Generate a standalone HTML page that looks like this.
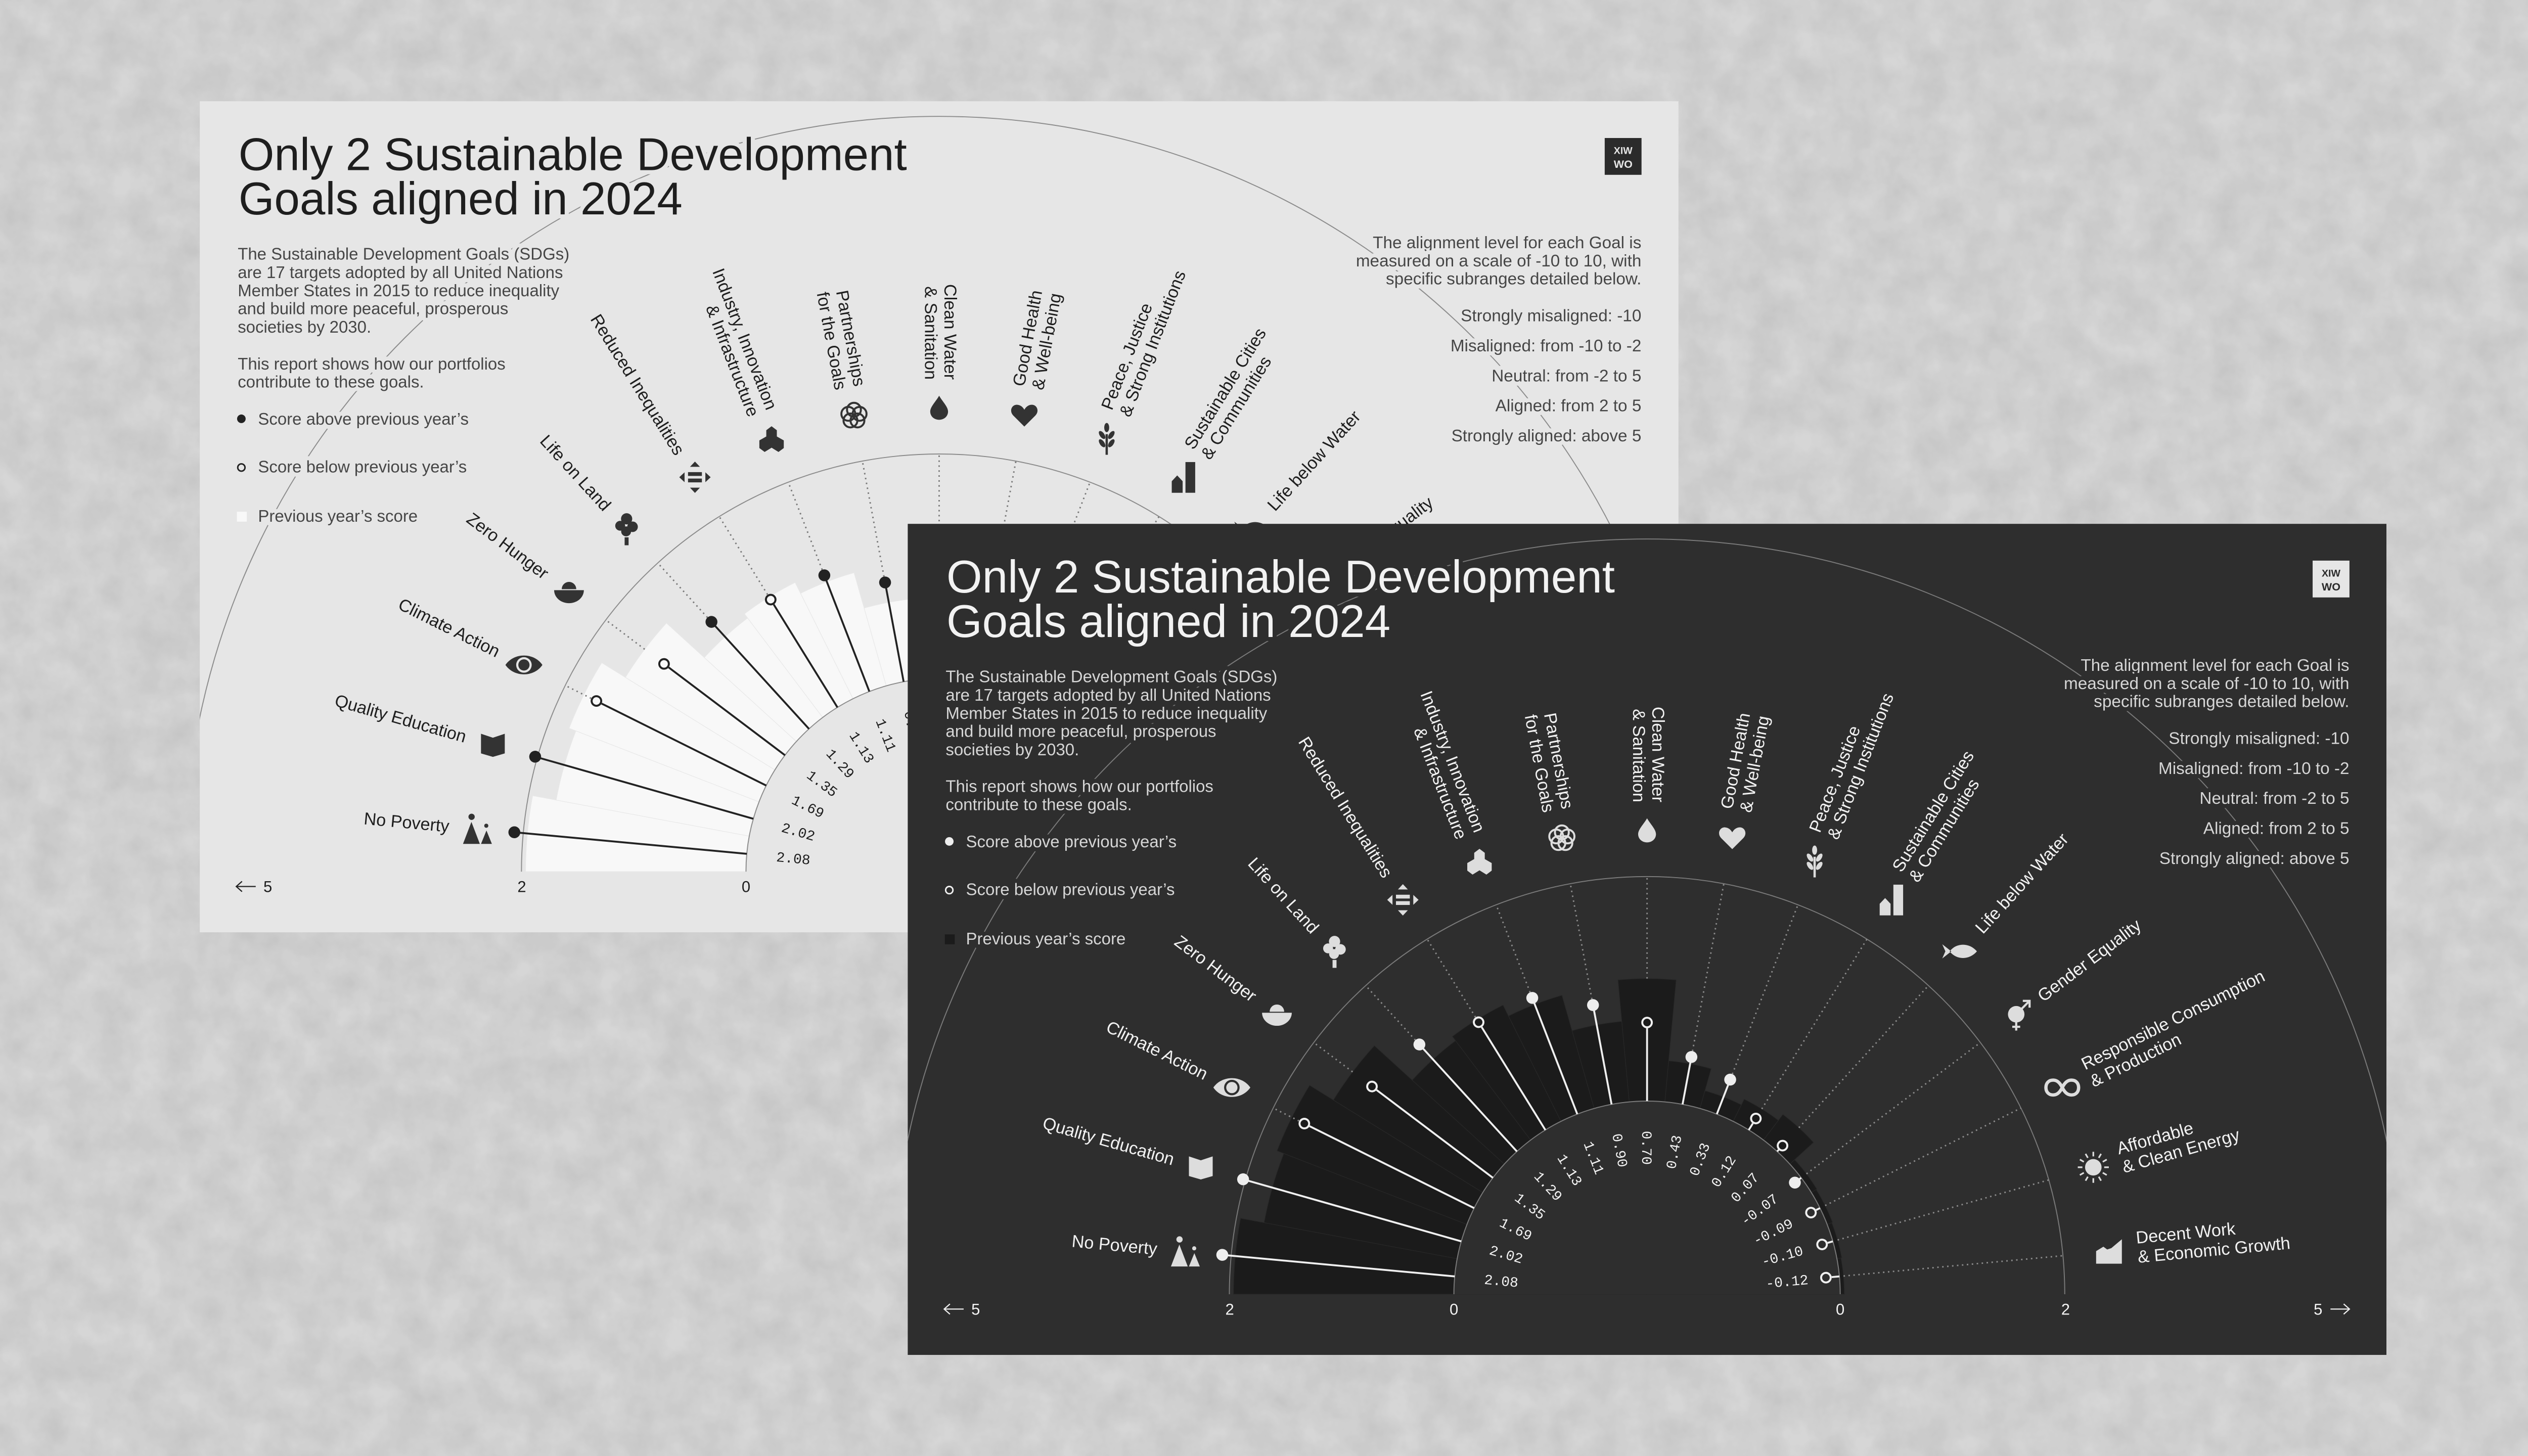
<!DOCTYPE html>
<html><head><meta charset="utf-8">
<style>
html,body{margin:0;padding:0;background:#cfcfcf;}
svg{display:block}
text{font-family:"Liberation Sans",Arial,sans-serif}
.mono{font-family:"Liberation Mono",monospace}
.d .bg{fill:#2e2e2e}.l .bg{fill:#e6e6e6}
.d .bar path{fill:#1b1b1b;stroke:#282828;stroke-width:.35}.l .bar path{fill:#f8f8f8;stroke:#e8e8e8;stroke-width:.35}
.d .tx{fill:#f2f2f2}.l .tx{fill:#1e1e1e}
.d .p{fill:#d6d6d6}.l .p{fill:#464646}
.d .ic{fill:#dddddd}.l .ic{fill:#333333}
.d .ics{stroke:#dddddd;fill:none}.l .ics{stroke:#333333;fill:none}
.d .ln{stroke:#f0f0f0}.l .ln{stroke:#222222}
.d .mf{fill:#eeeeee}.l .mf{fill:#222222}
.d .mo{stroke:#f0f0f0;fill:none}.l .mo{stroke:#222222;fill:none}
.d .g{stroke:#7a7a7a;fill:none}.l .g{stroke:#8c8c8c;fill:none}
.d .dt{stroke:#8a8a8a}.l .dt{stroke:#7a7a7a}
.d .sq{fill:#1b1b1b}.l .sq{fill:#f8f8f8}
.d .logo{fill:#e6e6e6}.l .logo{fill:#2b2b2b}
.d .logot{fill:#2b2b2b}.l .logot{fill:#e6e6e6}
.d .ar{stroke:#eeeeee;fill:none}.l .ar{stroke:#222222;fill:none}
.ko text{paint-order:stroke;stroke-width:5;stroke-linejoin:round}
.d .ko text{stroke:#2e2e2e}.l .ko text{stroke:#e6e6e6}
</style></head>
<body>
<svg width="5120" height="2880" viewBox="0 0 1568 882">
<filter id="tx" x="0" y="0" width="1568" height="882" filterUnits="userSpaceOnUse"><feTurbulence type="fractalNoise" baseFrequency="0.05" numOctaves="4" seed="3"/><feColorMatrix type="matrix" values="0 0 0 0 0  0 0 0 0 0  0 0 0 0 0  0.5 0 0 0 -0.1"/></filter>
<rect x="0" y="0" width="1568" height="882" fill="#d6d6d6"/>
<rect x="0" y="0" width="1568" height="882" filter="url(#tx)" opacity=".22"/>

<!-- ================= LIGHT CARD ================= -->
<svg x="121" y="61.3" width="895.7" height="503.5" viewBox="0 0 895.7 503.5" class="l">
<rect class="bg" width="895.7" height="503.5"/>
<g transform="translate(447.85,466.7)">
<path class="g" stroke-width=".6" d="M-457.5,0A457.5,457.5 0 0 1 457.5,0"/>
<g class="bar">
<path transform="rotate(5.294)" d="M0,0L-249.43,-23.11A250.5,250.5 0 0 0 -249.43,23.11Z"/>
<path transform="rotate(15.882)" d="M0,0L-234.99,-21.78A236,236 0 0 0 -234.99,21.78Z"/>
<path transform="rotate(26.471)" d="M0,0L-239.37,-22.18A240.4,240.4 0 0 0 -239.37,22.18Z"/>
<path transform="rotate(37.059)" d="M0,0L-222.55,-20.62A223.5,223.5 0 0 0 -222.55,20.62Z"/>
<path transform="rotate(47.647)" d="M0,0L-191.68,-17.76A192.5,192.5 0 0 0 -191.68,17.76Z"/>
<path transform="rotate(58.235)" d="M0,0L-194.86,-18.06A195.7,195.7 0 0 0 -194.86,18.06Z"/>
<path transform="rotate(68.824)" d="M0,0L-187.5,-17.37A188.3,188.3 0 0 0 -187.5,17.37Z"/>
<path transform="rotate(79.412)" d="M0,0L-165.29,-15.32A166,166 0 0 0 -165.29,15.32Z"/>
<path transform="rotate(90)" d="M0,0L-190.38,-17.64A191.2,191.2 0 0 0 -190.38,17.64Z"/>
<path transform="rotate(100.588)" d="M0,0L-141.39,-13.1A142,142 0 0 0 -141.39,13.1Z"/>
<path transform="rotate(111.176)" d="M0,0L-127.65,-11.83A128.2,128.2 0 0 0 -127.65,11.83Z"/>
<path transform="rotate(121.765)" d="M0,0L-131.44,-12.18A132,132 0 0 0 -131.44,12.18Z"/>
<path transform="rotate(132.353)" d="M0,0L-135.92,-12.59A136.5,136.5 0 0 0 -135.92,12.59Z"/>
<path transform="rotate(142.941)" d="M0,0L-120.48,-11.16A121,121 0 0 0 -120.48,11.16Z"/>
<path transform="rotate(153.529)" d="M0,0L-119.99,-11.12A120.5,120.5 0 0 0 -119.99,11.12Z"/>
<path transform="rotate(164.118)" d="M0,0L-119.49,-11.07A120,120 0 0 0 -119.49,11.07Z"/>
<path transform="rotate(174.706)" d="M0,0L-118.99,-11.03A119.5,119.5 0 0 0 -118.99,11.03Z"/>
</g>
<path class="bg" d="M-117,0A117,117 0 0 1 117,0Z"/>
<path class="g" stroke-width=".6" d="M-117,0A117,117 0 0 1 117,0"/>
<path class="g" stroke-width=".6" d="M-253,0A253,253 0 0 1 253,0"/>
<g class="dt" stroke-width=".9" stroke-dasharray=".9 2.1">
<line transform="rotate(26.471)" x1="-235.5" x2="-253"/>
<line transform="rotate(37.059)" x1="-223.5" x2="-253"/>
<line transform="rotate(47.647)" x1="-208.3" x2="-253"/>
<line transform="rotate(58.235)" x1="-197.4" x2="-253"/>
<line transform="rotate(68.824)" x1="-196.1" x2="-253"/>
<line transform="rotate(79.412)" x1="-181.8" x2="-253"/>
<line transform="rotate(90)" x1="-191.2" x2="-253"/>
<line transform="rotate(100.588)" x1="-149.8" x2="-253"/>
<line transform="rotate(111.176)" x1="-143" x2="-253"/>
<line transform="rotate(121.765)" x1="-132" x2="-253"/>
<line transform="rotate(132.353)" x1="-136.5" x2="-253"/>
<line transform="rotate(142.941)" x1="-121" x2="-253"/>
<line transform="rotate(153.529)" x1="-120.5" x2="-253"/>
<line transform="rotate(164.118)" x1="-120" x2="-253"/>
<line transform="rotate(174.706)" x1="-119.5" x2="-253"/>
</g>
<g class="ln" stroke-width="1.15">
<line transform="rotate(5.294)" x1="-117" x2="-258.4"/>
<line transform="rotate(15.882)" x1="-117" x2="-254.4"/>
<line transform="rotate(26.471)" x1="-117" x2="-228.4"/>
<line transform="rotate(37.059)" x1="-117" x2="-205.3"/>
<line transform="rotate(47.647)" x1="-117" x2="-204.7"/>
<line transform="rotate(58.235)" x1="-117" x2="-190.3"/>
<line transform="rotate(68.824)" x1="-117" x2="-192.5"/>
<line transform="rotate(79.412)" x1="-117" x2="-178.2"/>
<line transform="rotate(90)" x1="-117" x2="-161.1"/>
<line transform="rotate(100.588)" x1="-117" x2="-146.2"/>
<line transform="rotate(111.176)" x1="-117" x2="-139.4"/>
<line transform="rotate(121.765)" x1="-117" x2="-121.7"/>
<line transform="rotate(132.353)" x1="-117" x2="-118.3"/>
<line transform="rotate(142.941)" x1="-117" x2="-112.2"/>
<line transform="rotate(153.529)" x1="-117" x2="-114.4"/>
<line transform="rotate(164.118)" x1="-117" x2="-113.7"/>
<line transform="rotate(174.706)" x1="-117" x2="-112.3"/>
</g>
<g>
<circle class="mf" transform="rotate(5.294)" cx="-258.4" cy="0" r="3.6"/>
<circle class="mf" transform="rotate(15.882)" cx="-254.4" cy="0" r="3.6"/>
<circle class="mo" transform="rotate(26.471)" cx="-231.9" cy="0" r="2.9" stroke-width="1.2"/>
<circle class="mo" transform="rotate(37.059)" cx="-208.8" cy="0" r="2.9" stroke-width="1.2"/>
<circle class="mf" transform="rotate(47.647)" cx="-204.7" cy="0" r="3.6"/>
<circle class="mo" transform="rotate(58.235)" cx="-193.8" cy="0" r="2.9" stroke-width="1.2"/>
<circle class="mf" transform="rotate(68.824)" cx="-192.5" cy="0" r="3.6"/>
<circle class="mf" transform="rotate(79.412)" cx="-178.2" cy="0" r="3.6"/>
<circle class="mo" transform="rotate(90)" cx="-164.6" cy="0" r="2.9" stroke-width="1.2"/>
<circle class="mf" transform="rotate(100.588)" cx="-146.2" cy="0" r="3.6"/>
<circle class="mf" transform="rotate(111.176)" cx="-139.4" cy="0" r="3.6"/>
<circle class="mo" transform="rotate(121.765)" cx="-125.2" cy="0" r="2.9" stroke-width="1.2"/>
<circle class="mo" transform="rotate(132.353)" cx="-121.8" cy="0" r="2.9" stroke-width="1.2"/>
<circle class="mf" transform="rotate(142.941)" cx="-112.2" cy="0" r="3.6"/>
<circle class="mo" transform="rotate(153.529)" cx="-110.9" cy="0" r="2.9" stroke-width="1.2"/>
<circle class="mo" transform="rotate(164.118)" cx="-110.2" cy="0" r="2.9" stroke-width="1.2"/>
<circle class="mo" transform="rotate(174.706)" cx="-108.8" cy="0" r="2.9" stroke-width="1.2"/>
</g>
<!-- icons -->
<g class="ic">
<g transform="translate(-279.8,-25.9)"><circle cx="-3.4" cy="-7.3" r="1.9"/><path d="M-8.6,9.1L-3.5,-4.2L1.6,9.1Z"/><circle cx="5.5" cy="-1.9" r="1.25"/><path d="M2.3,9.1L5.6,1L8.9,9.1Z"/></g>
<g transform="translate(-270.3,-76.9)"><path d="M-7.2,-6.6L0,-4.2L7.2,-6.6L7.2,5.3L0,7.4L-7.2,5.3Z"/></g>
<g transform="translate(-251.5,-125.2)"><path d="M-11.2,0C-6,-7.6 6,-7.6 11.2,0C6,7.6 -6,7.6 -11.2,0Z"/><circle class="bg" r="4.7"/><circle r="3.4"/></g>
<g transform="translate(-224.2,-169.3)"><path d="M-4.4,-1.8A4.4,4.4 0 0 1 4.4,-1.8Z"/><path d="M-9,-1.2L9,-1.2A9,7.9 0 0 1 -9,-1.2Z"/></g>
<g transform="translate(-189.3,-207.7)"><circle cx="0" cy="-6" r="3.4"/><circle cx="-3.9" cy="-1.8" r="3"/><circle cx="3.6" cy="-1.2" r="3.2"/><circle cx="-0.3" cy="1.6" r="3"/><rect x="-1.2" y="5.2" width="2.4" height="4.8"/></g>
<g transform="translate(-147.9,-238.9)"><path d="M-3,-6.3L0,-9.5L3,-6.3ZM-3,6.3L0,9.5L3,6.3ZM-6.3,-3L-9.5,0L-6.3,3ZM6.3,-3L9.5,0L6.3,3Z"/><rect x="-4.2" y="-3.1" width="8.4" height="2.3"/><rect x="-4.2" y="0.8" width="8.4" height="2.3"/></g>
<g transform="translate(-101.5,-262)"><path d="M0,-7.8L3.2,-5.4L3.2,-1.6L7.4,0.8L7.4,5.4L4.2,7.8L0,5.2L-4.2,7.8L-7.4,5.4L-7.4,0.8L-3.2,-1.6L-3.2,-5.4Z"/></g>
<g transform="translate(-51.6,-276.2)" class="ics" stroke-width="1.2"><circle cx="0" cy="-3.6" r="4.2"/><circle cx="3.42" cy="-1.11" r="4.2"/><circle cx="2.12" cy="2.91" r="4.2"/><circle cx="-2.12" cy="2.91" r="4.2"/><circle cx="-3.42" cy="-1.11" r="4.2"/></g>
<g transform="translate(0,-281)"><path d="M0,-7.3C2,-3.8 5.4,-0.6 5.4,2.3C5.4,5.3 2.9,7.3 0,7.3C-2.9,7.3 -5.4,5.3 -5.4,2.3C-5.4,-0.6 -2,-3.8 0,-7.3Z"/></g>
<g transform="translate(51.6,-276.2)"><path d="M0,6.6L-6.6,0C-9.4,-2.8 -7.6,-6.8 -4.3,-6.6C-2.3,-6.5 -0.8,-5.1 0,-3.6C0.8,-5.1 2.3,-6.5 4.3,-6.6C7.6,-6.8 9.4,-2.8 6.6,0Z"/></g>
<g transform="translate(101.5,-262)"><rect x="-0.7" y="-3" width="1.4" height="12.5"/><ellipse cx="0" cy="-7" rx="1.5" ry="2.8"/><ellipse cx="-2.8" cy="-2.5" rx="1.4" ry="2.8" transform="rotate(-35 -2.8 -2.5)"/><ellipse cx="2.8" cy="-2.5" rx="1.4" ry="2.8" transform="rotate(35 2.8 -2.5)"/><ellipse cx="-2.8" cy="2.5" rx="1.4" ry="2.8" transform="rotate(-35 -2.8 2.5)"/><ellipse cx="2.8" cy="2.5" rx="1.4" ry="2.8" transform="rotate(35 2.8 2.5)"/></g>
<g transform="translate(147.9,-238.9)"><path d="M-7,9.4L-7,2.4L-3.7,-1.1L-0.4,2.4L-0.4,9.4Z"/><rect x="1.3" y="-9.2" width="5.9" height="18.6"/></g>
<g transform="translate(189.3,-207.7)"><path d="M-6,0C-2,-5.4 6,-5.4 10.5,0C6,5.4 -2,5.4 -6,0ZM-5,0L-10.5,-4.3L-8.6,0L-10.5,4.3Z"/></g>
<g transform="translate(224.2,-169.3)"><circle cx="-0.6" cy="-0.3" r="5"/><g class="ics" stroke-width="1.3"><path d="M2.8,-3.7L6.8,-7.7"/><path d="M3.4,-8.4L7.5,-8.4L7.5,-4.3"/><path d="M-0.6,4.5V9.6M-3,7.3H1.8"/></g></g>
<g transform="translate(251.5,-125.2)" class="ics" stroke-width="2"><path d="M0,0C-1.6,-3.2 -3.3,-4.5 -5.6,-4.5C-8.3,-4.5 -9.9,-2.6 -9.9,0C-9.9,2.6 -8.3,4.5 -5.6,4.5C-3.3,4.5 -1.6,3.2 0,0C1.6,-3.2 3.3,-4.5 5.6,-4.5C8.3,-4.5 9.9,-2.6 9.9,0C9.9,2.6 8.3,4.5 5.6,4.5C3.3,4.5 1.6,3.2 0,0Z"/></g>
<g transform="translate(270.3,-76.9)"><circle r="5"/><path class="ics" stroke-width="1" d="M6.6,0L9.4,0M5.72,3.3L8.14,4.7M3.3,5.72L4.7,8.14M0,6.6L0,9.4M-3.3,5.72L-4.7,8.14M-5.72,3.3L-8.14,4.7M-6.6,0L-9.4,0M-5.72,-3.3L-8.14,-4.7M-3.3,-5.72L-4.7,-8.14M0,-6.6L0,-9.4M3.3,-5.72L4.7,-8.14M5.72,-3.3L8.14,-4.7"/></g>
<g transform="translate(279.8,-25.9)"><path d="M-7.8,7.4L-7.8,-0.2L-3.4,-2.9L-1.1,-1.2L1.4,-2L7.8,-7.4L7.8,7.4Z"/></g>
</g>
<!-- goal labels -->
<g class="tx" font-size="10.5">
<text transform="rotate(5.294)" x="-298" y="3.6" text-anchor="end">No Poverty</text>
<text transform="rotate(15.882)" x="-298" y="3.6" text-anchor="end">Quality Education</text>
<text transform="rotate(26.471)" x="-298" y="3.6" text-anchor="end">Climate Action</text>
<text transform="rotate(37.059)" x="-298" y="3.6" text-anchor="end">Zero Hunger</text>
<text transform="rotate(47.647)" x="-298" y="3.6" text-anchor="end">Life on Land</text>
<text transform="rotate(58.235)" x="-298" y="3.6" text-anchor="end">Reduced Inequalities</text>
<text transform="rotate(68.824)" text-anchor="end"><tspan x="-298" y="-3.2">Industry, Innovation</tspan><tspan x="-298" y="8.5">&amp; Infrastructure</tspan></text>
<text transform="rotate(79.412)" text-anchor="end"><tspan x="-298" y="-3.2">Partnerships</tspan><tspan x="-298" y="8.5">for the Goals</tspan></text>
<text transform="rotate(90)" text-anchor="end"><tspan x="-298" y="-3.2">Clean Water</tspan><tspan x="-298" y="8.5">&amp; Sanitation</tspan></text>
<text transform="rotate(-79.412)"><tspan x="298" y="-3.2">Good Health</tspan><tspan x="298" y="8.5">&amp; Well-being</tspan></text>
<text transform="rotate(-68.824)"><tspan x="298" y="-3.2">Peace, Justice</tspan><tspan x="298" y="8.5">&amp; Strong Institutions</tspan></text>
<text transform="rotate(-58.235)"><tspan x="298" y="-3.2">Sustainable Cities</tspan><tspan x="298" y="8.5">&amp; Communities</tspan></text>
<text transform="rotate(-47.647)" x="298" y="3.6">Life below Water</text>
<text transform="rotate(-37.059)" x="298" y="3.6">Gender Equality</text>
<text transform="rotate(-26.471)"><tspan x="298" y="-3.2">Responsible Consumption</tspan><tspan x="298" y="8.5">&amp; Production</tspan></text>
<text transform="rotate(-15.882)"><tspan x="298" y="-3.2">Affordable</tspan><tspan x="298" y="8.5">&amp; Clean Energy</tspan></text>
<text transform="rotate(-5.294)"><tspan x="298" y="-3.2">Decent Work</tspan><tspan x="298" y="8.5">&amp; Economic Growth</tspan></text>
</g>
<!-- values -->
<g class="tx mono" font-size="8.6">
<text class="mono" transform="rotate(5.294)" x="-99" y="2.9">2.08</text>
<text class="mono" transform="rotate(15.882)" x="-99" y="2.9">2.02</text>
<text class="mono" transform="rotate(26.471)" x="-99" y="2.9">1.69</text>
<text class="mono" transform="rotate(37.059)" x="-99" y="2.9">1.35</text>
<text class="mono" transform="rotate(47.647)" x="-99" y="2.9">1.29</text>
<text class="mono" transform="rotate(58.235)" x="-99" y="2.9">1.13</text>
<text class="mono" transform="rotate(68.824)" x="-99" y="2.9">1.11</text>
<text class="mono" transform="rotate(79.412)" x="-99" y="2.9">0.90</text>
<text class="mono" transform="rotate(90)" x="-99" y="2.9">0.70</text>
<text class="mono" transform="rotate(-79.412)" x="98" y="2.9" text-anchor="end">0.43</text>
<text class="mono" transform="rotate(-68.824)" x="98" y="2.9" text-anchor="end">0.33</text>
<text class="mono" transform="rotate(-58.235)" x="98" y="2.9" text-anchor="end">0.12</text>
<text class="mono" transform="rotate(-47.647)" x="98" y="2.9" text-anchor="end">0.07</text>
<text class="mono" transform="rotate(-37.059)" x="98" y="2.9" text-anchor="end">-0.07</text>
<text class="mono" transform="rotate(-26.471)" x="98" y="2.9" text-anchor="end">-0.09</text>
<text class="mono" transform="rotate(-15.882)" x="98" y="2.9" text-anchor="end">-0.10</text>
<text class="mono" transform="rotate(-5.294)" x="98" y="2.9" text-anchor="end">-0.12</text>
</g>
<g class="tx" font-size="9.5" text-anchor="middle">
<text x="-252.8" y="12.4">2</text><text x="-117" y="12.4">0</text><text x="117" y="12.4">0</text><text x="253.5" y="12.4">2</text>
</g>
</g>
<!-- text blocks -->
<g class="tx ko" font-size="27.8"><text x="23.5" y="41.7">Only 2 Sustainable Development</text><text x="23.5" y="68.5">Goals aligned in 2024</text></g>
<g class="p ko" font-size="10.1">
<text x="23" y="96">The Sustainable Development Goals (SDGs)</text>
<text x="23" y="107.1">are 17 targets adopted by all United Nations</text>
<text x="23" y="118.2">Member States in 2015 to reduce inequality</text>
<text x="23" y="129.1">and build more peaceful, prosperous</text>
<text x="23" y="140.2">societies by 2030.</text>
<text x="23" y="162.5">This report shows how our portfolios</text>
<text x="23" y="173.4">contribute to these goals.</text>
<text x="35.3" y="195.9">Score above previous year&#8217;s</text>
<text x="35.3" y="224.9">Score below previous year&#8217;s</text>
<text x="35.3" y="254.8">Previous year&#8217;s score</text>
</g>
<circle class="mf" cx="25.2" cy="192.4" r="2.6"/>
<circle class="mo" cx="25.2" cy="221.9" r="2.2" stroke-width=".9"/>
<rect class="sq" x="22.5" y="248.7" width="6" height="6"/>
<g class="p ko" font-size="10.2" text-anchor="end">
<text x="873.2" y="89.1">The alignment level for each Goal is</text>
<text x="873.2" y="100.1">measured on a scale of -10 to 10, with</text>
<text x="873.2" y="111">specific subranges detailed below.</text>
<text x="873.2" y="133.3">Strongly misaligned: -10</text>
<text x="873.2" y="151.5">Misaligned: from -10 to -2</text>
<text x="873.2" y="169.7">Neutral: from -2 to 5</text>
<text x="873.2" y="187.9">Aligned: from 2 to 5</text>
<text x="873.2" y="206.1">Strongly aligned: above 5</text>
</g>
<rect class="logo" x="851" y="22.3" width="22.3" height="22.3"/>
<text class="logot" x="862.15" y="32" font-size="6" font-weight="bold" text-anchor="middle">XIW</text>
<text class="logot" x="862.15" y="40.4" font-size="6.6" font-weight="bold" text-anchor="middle">WO</text>
<g class="tx" font-size="9.5" text-anchor="middle"><text x="41.2" y="479.1">5</text><text x="854.3" y="479.1">5</text></g>
<path class="ar" stroke-width=".7" d="M22.1,475.7L33.9,475.7M25.6,472.6L22.1,475.7L25.6,478.8M861.8,475.7L873.3,475.7M869.8,472.6L873.3,475.7L869.8,478.8"/>
</svg>

<!-- ================= DARK CARD ================= -->
<svg x="549.8" y="317.3" width="895.7" height="503.5" viewBox="0 0 895.7 503.5" class="d">
<rect class="bg" width="895.7" height="503.5"/>
<g transform="translate(447.85,466.7)">
<path class="g" stroke-width=".6" d="M-457.5,0A457.5,457.5 0 0 1 457.5,0"/>
<g class="bar">
<path transform="rotate(5.294)" d="M0,0L-249.43,-23.11A250.5,250.5 0 0 0 -249.43,23.11Z"/>
<path transform="rotate(15.882)" d="M0,0L-234.99,-21.78A236,236 0 0 0 -234.99,21.78Z"/>
<path transform="rotate(26.471)" d="M0,0L-239.37,-22.18A240.4,240.4 0 0 0 -239.37,22.18Z"/>
<path transform="rotate(37.059)" d="M0,0L-222.55,-20.62A223.5,223.5 0 0 0 -222.55,20.62Z"/>
<path transform="rotate(47.647)" d="M0,0L-191.68,-17.76A192.5,192.5 0 0 0 -191.68,17.76Z"/>
<path transform="rotate(58.235)" d="M0,0L-194.86,-18.06A195.7,195.7 0 0 0 -194.86,18.06Z"/>
<path transform="rotate(68.824)" d="M0,0L-187.5,-17.37A188.3,188.3 0 0 0 -187.5,17.37Z"/>
<path transform="rotate(79.412)" d="M0,0L-165.29,-15.32A166,166 0 0 0 -165.29,15.32Z"/>
<path transform="rotate(90)" d="M0,0L-190.38,-17.64A191.2,191.2 0 0 0 -190.38,17.64Z"/>
<path transform="rotate(100.588)" d="M0,0L-141.39,-13.1A142,142 0 0 0 -141.39,13.1Z"/>
<path transform="rotate(111.176)" d="M0,0L-127.65,-11.83A128.2,128.2 0 0 0 -127.65,11.83Z"/>
<path transform="rotate(121.765)" d="M0,0L-131.44,-12.18A132,132 0 0 0 -131.44,12.18Z"/>
<path transform="rotate(132.353)" d="M0,0L-135.92,-12.59A136.5,136.5 0 0 0 -135.92,12.59Z"/>
<path transform="rotate(142.941)" d="M0,0L-120.48,-11.16A121,121 0 0 0 -120.48,11.16Z"/>
<path transform="rotate(153.529)" d="M0,0L-119.99,-11.12A120.5,120.5 0 0 0 -119.99,11.12Z"/>
<path transform="rotate(164.118)" d="M0,0L-119.49,-11.07A120,120 0 0 0 -119.49,11.07Z"/>
<path transform="rotate(174.706)" d="M0,0L-118.99,-11.03A119.5,119.5 0 0 0 -118.99,11.03Z"/>
</g>
<path class="bg" d="M-117,0A117,117 0 0 1 117,0Z"/>
<path class="g" stroke-width=".6" d="M-117,0A117,117 0 0 1 117,0"/>
<path class="g" stroke-width=".6" d="M-253,0A253,253 0 0 1 253,0"/>
<g class="dt" stroke-width=".9" stroke-dasharray=".9 2.1">
<line transform="rotate(26.471)" x1="-235.5" x2="-253"/>
<line transform="rotate(37.059)" x1="-223.5" x2="-253"/>
<line transform="rotate(47.647)" x1="-208.3" x2="-253"/>
<line transform="rotate(58.235)" x1="-197.4" x2="-253"/>
<line transform="rotate(68.824)" x1="-196.1" x2="-253"/>
<line transform="rotate(79.412)" x1="-181.8" x2="-253"/>
<line transform="rotate(90)" x1="-191.2" x2="-253"/>
<line transform="rotate(100.588)" x1="-149.8" x2="-253"/>
<line transform="rotate(111.176)" x1="-143" x2="-253"/>
<line transform="rotate(121.765)" x1="-132" x2="-253"/>
<line transform="rotate(132.353)" x1="-136.5" x2="-253"/>
<line transform="rotate(142.941)" x1="-121" x2="-253"/>
<line transform="rotate(153.529)" x1="-120.5" x2="-253"/>
<line transform="rotate(164.118)" x1="-120" x2="-253"/>
<line transform="rotate(174.706)" x1="-119.5" x2="-253"/>
</g>
<g class="ln" stroke-width="1.15">
<line transform="rotate(5.294)" x1="-117" x2="-258.4"/>
<line transform="rotate(15.882)" x1="-117" x2="-254.4"/>
<line transform="rotate(26.471)" x1="-117" x2="-228.4"/>
<line transform="rotate(37.059)" x1="-117" x2="-205.3"/>
<line transform="rotate(47.647)" x1="-117" x2="-204.7"/>
<line transform="rotate(58.235)" x1="-117" x2="-190.3"/>
<line transform="rotate(68.824)" x1="-117" x2="-192.5"/>
<line transform="rotate(79.412)" x1="-117" x2="-178.2"/>
<line transform="rotate(90)" x1="-117" x2="-161.1"/>
<line transform="rotate(100.588)" x1="-117" x2="-146.2"/>
<line transform="rotate(111.176)" x1="-117" x2="-139.4"/>
<line transform="rotate(121.765)" x1="-117" x2="-121.7"/>
<line transform="rotate(132.353)" x1="-117" x2="-118.3"/>
<line transform="rotate(142.941)" x1="-117" x2="-112.2"/>
<line transform="rotate(153.529)" x1="-117" x2="-114.4"/>
<line transform="rotate(164.118)" x1="-117" x2="-113.7"/>
<line transform="rotate(174.706)" x1="-117" x2="-112.3"/>
</g>
<g>
<circle class="mf" transform="rotate(5.294)" cx="-258.4" cy="0" r="3.6"/>
<circle class="mf" transform="rotate(15.882)" cx="-254.4" cy="0" r="3.6"/>
<circle class="mo" transform="rotate(26.471)" cx="-231.9" cy="0" r="2.9" stroke-width="1.2"/>
<circle class="mo" transform="rotate(37.059)" cx="-208.8" cy="0" r="2.9" stroke-width="1.2"/>
<circle class="mf" transform="rotate(47.647)" cx="-204.7" cy="0" r="3.6"/>
<circle class="mo" transform="rotate(58.235)" cx="-193.8" cy="0" r="2.9" stroke-width="1.2"/>
<circle class="mf" transform="rotate(68.824)" cx="-192.5" cy="0" r="3.6"/>
<circle class="mf" transform="rotate(79.412)" cx="-178.2" cy="0" r="3.6"/>
<circle class="mo" transform="rotate(90)" cx="-164.6" cy="0" r="2.9" stroke-width="1.2"/>
<circle class="mf" transform="rotate(100.588)" cx="-146.2" cy="0" r="3.6"/>
<circle class="mf" transform="rotate(111.176)" cx="-139.4" cy="0" r="3.6"/>
<circle class="mo" transform="rotate(121.765)" cx="-125.2" cy="0" r="2.9" stroke-width="1.2"/>
<circle class="mo" transform="rotate(132.353)" cx="-121.8" cy="0" r="2.9" stroke-width="1.2"/>
<circle class="mf" transform="rotate(142.941)" cx="-112.2" cy="0" r="3.6"/>
<circle class="mo" transform="rotate(153.529)" cx="-110.9" cy="0" r="2.9" stroke-width="1.2"/>
<circle class="mo" transform="rotate(164.118)" cx="-110.2" cy="0" r="2.9" stroke-width="1.2"/>
<circle class="mo" transform="rotate(174.706)" cx="-108.8" cy="0" r="2.9" stroke-width="1.2"/>
</g>
<!-- icons -->
<g class="ic">
<g transform="translate(-279.8,-25.9)"><circle cx="-3.4" cy="-7.3" r="1.9"/><path d="M-8.6,9.1L-3.5,-4.2L1.6,9.1Z"/><circle cx="5.5" cy="-1.9" r="1.25"/><path d="M2.3,9.1L5.6,1L8.9,9.1Z"/></g>
<g transform="translate(-270.3,-76.9)"><path d="M-7.2,-6.6L0,-4.2L7.2,-6.6L7.2,5.3L0,7.4L-7.2,5.3Z"/></g>
<g transform="translate(-251.5,-125.2)"><path d="M-11.2,0C-6,-7.6 6,-7.6 11.2,0C6,7.6 -6,7.6 -11.2,0Z"/><circle class="bg" r="4.7"/><circle r="3.4"/></g>
<g transform="translate(-224.2,-169.3)"><path d="M-4.4,-1.8A4.4,4.4 0 0 1 4.4,-1.8Z"/><path d="M-9,-1.2L9,-1.2A9,7.9 0 0 1 -9,-1.2Z"/></g>
<g transform="translate(-189.3,-207.7)"><circle cx="0" cy="-6" r="3.4"/><circle cx="-3.9" cy="-1.8" r="3"/><circle cx="3.6" cy="-1.2" r="3.2"/><circle cx="-0.3" cy="1.6" r="3"/><rect x="-1.2" y="5.2" width="2.4" height="4.8"/></g>
<g transform="translate(-147.9,-238.9)"><path d="M-3,-6.3L0,-9.5L3,-6.3ZM-3,6.3L0,9.5L3,6.3ZM-6.3,-3L-9.5,0L-6.3,3ZM6.3,-3L9.5,0L6.3,3Z"/><rect x="-4.2" y="-3.1" width="8.4" height="2.3"/><rect x="-4.2" y="0.8" width="8.4" height="2.3"/></g>
<g transform="translate(-101.5,-262)"><path d="M0,-7.8L3.2,-5.4L3.2,-1.6L7.4,0.8L7.4,5.4L4.2,7.8L0,5.2L-4.2,7.8L-7.4,5.4L-7.4,0.8L-3.2,-1.6L-3.2,-5.4Z"/></g>
<g transform="translate(-51.6,-276.2)" class="ics" stroke-width="1.2"><circle cx="0" cy="-3.6" r="4.2"/><circle cx="3.42" cy="-1.11" r="4.2"/><circle cx="2.12" cy="2.91" r="4.2"/><circle cx="-2.12" cy="2.91" r="4.2"/><circle cx="-3.42" cy="-1.11" r="4.2"/></g>
<g transform="translate(0,-281)"><path d="M0,-7.3C2,-3.8 5.4,-0.6 5.4,2.3C5.4,5.3 2.9,7.3 0,7.3C-2.9,7.3 -5.4,5.3 -5.4,2.3C-5.4,-0.6 -2,-3.8 0,-7.3Z"/></g>
<g transform="translate(51.6,-276.2)"><path d="M0,6.6L-6.6,0C-9.4,-2.8 -7.6,-6.8 -4.3,-6.6C-2.3,-6.5 -0.8,-5.1 0,-3.6C0.8,-5.1 2.3,-6.5 4.3,-6.6C7.6,-6.8 9.4,-2.8 6.6,0Z"/></g>
<g transform="translate(101.5,-262)"><rect x="-0.7" y="-3" width="1.4" height="12.5"/><ellipse cx="0" cy="-7" rx="1.5" ry="2.8"/><ellipse cx="-2.8" cy="-2.5" rx="1.4" ry="2.8" transform="rotate(-35 -2.8 -2.5)"/><ellipse cx="2.8" cy="-2.5" rx="1.4" ry="2.8" transform="rotate(35 2.8 -2.5)"/><ellipse cx="-2.8" cy="2.5" rx="1.4" ry="2.8" transform="rotate(-35 -2.8 2.5)"/><ellipse cx="2.8" cy="2.5" rx="1.4" ry="2.8" transform="rotate(35 2.8 2.5)"/></g>
<g transform="translate(147.9,-238.9)"><path d="M-7,9.4L-7,2.4L-3.7,-1.1L-0.4,2.4L-0.4,9.4Z"/><rect x="1.3" y="-9.2" width="5.9" height="18.6"/></g>
<g transform="translate(189.3,-207.7)"><path d="M-6,0C-2,-5.4 6,-5.4 10.5,0C6,5.4 -2,5.4 -6,0ZM-5,0L-10.5,-4.3L-8.6,0L-10.5,4.3Z"/></g>
<g transform="translate(224.2,-169.3)"><circle cx="-0.6" cy="-0.3" r="5"/><g class="ics" stroke-width="1.3"><path d="M2.8,-3.7L6.8,-7.7"/><path d="M3.4,-8.4L7.5,-8.4L7.5,-4.3"/><path d="M-0.6,4.5V9.6M-3,7.3H1.8"/></g></g>
<g transform="translate(251.5,-125.2)" class="ics" stroke-width="2"><path d="M0,0C-1.6,-3.2 -3.3,-4.5 -5.6,-4.5C-8.3,-4.5 -9.9,-2.6 -9.9,0C-9.9,2.6 -8.3,4.5 -5.6,4.5C-3.3,4.5 -1.6,3.2 0,0C1.6,-3.2 3.3,-4.5 5.6,-4.5C8.3,-4.5 9.9,-2.6 9.9,0C9.9,2.6 8.3,4.5 5.6,4.5C3.3,4.5 1.6,3.2 0,0Z"/></g>
<g transform="translate(270.3,-76.9)"><circle r="5"/><path class="ics" stroke-width="1" d="M6.6,0L9.4,0M5.72,3.3L8.14,4.7M3.3,5.72L4.7,8.14M0,6.6L0,9.4M-3.3,5.72L-4.7,8.14M-5.72,3.3L-8.14,4.7M-6.6,0L-9.4,0M-5.72,-3.3L-8.14,-4.7M-3.3,-5.72L-4.7,-8.14M0,-6.6L0,-9.4M3.3,-5.72L4.7,-8.14M5.72,-3.3L8.14,-4.7"/></g>
<g transform="translate(279.8,-25.9)"><path d="M-7.8,7.4L-7.8,-0.2L-3.4,-2.9L-1.1,-1.2L1.4,-2L7.8,-7.4L7.8,7.4Z"/></g>
</g>
<!-- goal labels -->
<g class="tx" font-size="10.5">
<text transform="rotate(5.294)" x="-298" y="3.6" text-anchor="end">No Poverty</text>
<text transform="rotate(15.882)" x="-298" y="3.6" text-anchor="end">Quality Education</text>
<text transform="rotate(26.471)" x="-298" y="3.6" text-anchor="end">Climate Action</text>
<text transform="rotate(37.059)" x="-298" y="3.6" text-anchor="end">Zero Hunger</text>
<text transform="rotate(47.647)" x="-298" y="3.6" text-anchor="end">Life on Land</text>
<text transform="rotate(58.235)" x="-298" y="3.6" text-anchor="end">Reduced Inequalities</text>
<text transform="rotate(68.824)" text-anchor="end"><tspan x="-298" y="-3.2">Industry, Innovation</tspan><tspan x="-298" y="8.5">&amp; Infrastructure</tspan></text>
<text transform="rotate(79.412)" text-anchor="end"><tspan x="-298" y="-3.2">Partnerships</tspan><tspan x="-298" y="8.5">for the Goals</tspan></text>
<text transform="rotate(90)" text-anchor="end"><tspan x="-298" y="-3.2">Clean Water</tspan><tspan x="-298" y="8.5">&amp; Sanitation</tspan></text>
<text transform="rotate(-79.412)"><tspan x="298" y="-3.2">Good Health</tspan><tspan x="298" y="8.5">&amp; Well-being</tspan></text>
<text transform="rotate(-68.824)"><tspan x="298" y="-3.2">Peace, Justice</tspan><tspan x="298" y="8.5">&amp; Strong Institutions</tspan></text>
<text transform="rotate(-58.235)"><tspan x="298" y="-3.2">Sustainable Cities</tspan><tspan x="298" y="8.5">&amp; Communities</tspan></text>
<text transform="rotate(-47.647)" x="298" y="3.6">Life below Water</text>
<text transform="rotate(-37.059)" x="298" y="3.6">Gender Equality</text>
<text transform="rotate(-26.471)"><tspan x="298" y="-3.2">Responsible Consumption</tspan><tspan x="298" y="8.5">&amp; Production</tspan></text>
<text transform="rotate(-15.882)"><tspan x="298" y="-3.2">Affordable</tspan><tspan x="298" y="8.5">&amp; Clean Energy</tspan></text>
<text transform="rotate(-5.294)"><tspan x="298" y="-3.2">Decent Work</tspan><tspan x="298" y="8.5">&amp; Economic Growth</tspan></text>
</g>
<!-- values -->
<g class="tx mono" font-size="8.6">
<text class="mono" transform="rotate(5.294)" x="-99" y="2.9">2.08</text>
<text class="mono" transform="rotate(15.882)" x="-99" y="2.9">2.02</text>
<text class="mono" transform="rotate(26.471)" x="-99" y="2.9">1.69</text>
<text class="mono" transform="rotate(37.059)" x="-99" y="2.9">1.35</text>
<text class="mono" transform="rotate(47.647)" x="-99" y="2.9">1.29</text>
<text class="mono" transform="rotate(58.235)" x="-99" y="2.9">1.13</text>
<text class="mono" transform="rotate(68.824)" x="-99" y="2.9">1.11</text>
<text class="mono" transform="rotate(79.412)" x="-99" y="2.9">0.90</text>
<text class="mono" transform="rotate(90)" x="-99" y="2.9">0.70</text>
<text class="mono" transform="rotate(-79.412)" x="98" y="2.9" text-anchor="end">0.43</text>
<text class="mono" transform="rotate(-68.824)" x="98" y="2.9" text-anchor="end">0.33</text>
<text class="mono" transform="rotate(-58.235)" x="98" y="2.9" text-anchor="end">0.12</text>
<text class="mono" transform="rotate(-47.647)" x="98" y="2.9" text-anchor="end">0.07</text>
<text class="mono" transform="rotate(-37.059)" x="98" y="2.9" text-anchor="end">-0.07</text>
<text class="mono" transform="rotate(-26.471)" x="98" y="2.9" text-anchor="end">-0.09</text>
<text class="mono" transform="rotate(-15.882)" x="98" y="2.9" text-anchor="end">-0.10</text>
<text class="mono" transform="rotate(-5.294)" x="98" y="2.9" text-anchor="end">-0.12</text>
</g>
<g class="tx" font-size="9.5" text-anchor="middle">
<text x="-252.8" y="12.4">2</text><text x="-117" y="12.4">0</text><text x="117" y="12.4">0</text><text x="253.5" y="12.4">2</text>
</g>
</g>
<!-- text blocks -->
<g class="tx ko" font-size="27.8"><text x="23.5" y="41.7">Only 2 Sustainable Development</text><text x="23.5" y="68.5">Goals aligned in 2024</text></g>
<g class="p ko" font-size="10.1">
<text x="23" y="96">The Sustainable Development Goals (SDGs)</text>
<text x="23" y="107.1">are 17 targets adopted by all United Nations</text>
<text x="23" y="118.2">Member States in 2015 to reduce inequality</text>
<text x="23" y="129.1">and build more peaceful, prosperous</text>
<text x="23" y="140.2">societies by 2030.</text>
<text x="23" y="162.5">This report shows how our portfolios</text>
<text x="23" y="173.4">contribute to these goals.</text>
<text x="35.3" y="195.9">Score above previous year&#8217;s</text>
<text x="35.3" y="224.9">Score below previous year&#8217;s</text>
<text x="35.3" y="254.8">Previous year&#8217;s score</text>
</g>
<circle class="mf" cx="25.2" cy="192.4" r="2.6"/>
<circle class="mo" cx="25.2" cy="221.9" r="2.2" stroke-width=".9"/>
<rect class="sq" x="22.5" y="248.7" width="6" height="6"/>
<g class="p ko" font-size="10.2" text-anchor="end">
<text x="873.2" y="89.1">The alignment level for each Goal is</text>
<text x="873.2" y="100.1">measured on a scale of -10 to 10, with</text>
<text x="873.2" y="111">specific subranges detailed below.</text>
<text x="873.2" y="133.3">Strongly misaligned: -10</text>
<text x="873.2" y="151.5">Misaligned: from -10 to -2</text>
<text x="873.2" y="169.7">Neutral: from -2 to 5</text>
<text x="873.2" y="187.9">Aligned: from 2 to 5</text>
<text x="873.2" y="206.1">Strongly aligned: above 5</text>
</g>
<rect class="logo" x="851" y="22.3" width="22.3" height="22.3"/>
<text class="logot" x="862.15" y="32" font-size="6" font-weight="bold" text-anchor="middle">XIW</text>
<text class="logot" x="862.15" y="40.4" font-size="6.6" font-weight="bold" text-anchor="middle">WO</text>
<g class="tx" font-size="9.5" text-anchor="middle"><text x="41.2" y="479.1">5</text><text x="854.3" y="479.1">5</text></g>
<path class="ar" stroke-width=".7" d="M22.1,475.7L33.9,475.7M25.6,472.6L22.1,475.7L25.6,478.8M861.8,475.7L873.3,475.7M869.8,472.6L873.3,475.7L869.8,478.8"/>
</svg>
</svg>
</body></html>
